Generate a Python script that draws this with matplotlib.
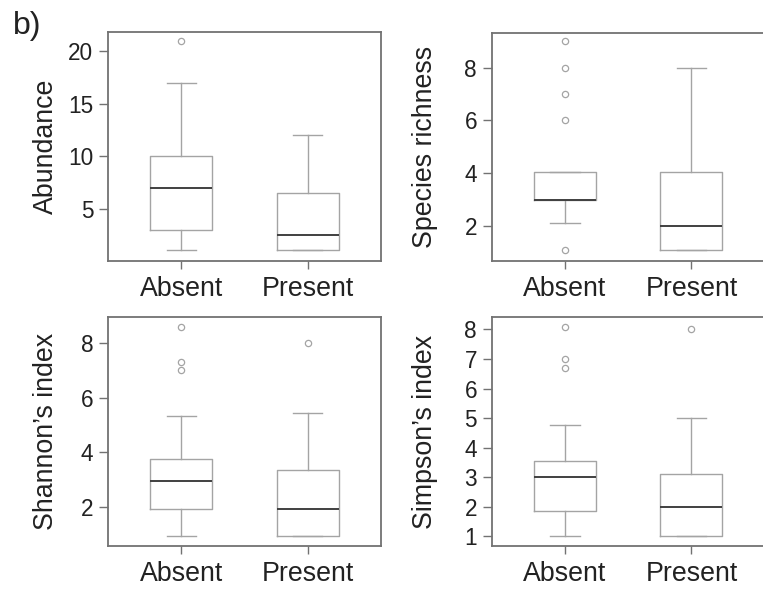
import matplotlib
matplotlib.use("Agg")
import matplotlib.pyplot as plt

plt.rcParams['font.family'] = ['Liberation Sans', 'DejaVu Sans']

groups = ["Absent", "Present"]

# Abundance
ab_q1 = [3.0, 1.1]
ab_med = [7.0, 2.5]
ab_q3 = [10.0, 6.5]
ab_lo = [1.15, 1.1]
ab_hi = [17.0, 12.0]
ab_fl = [[21.0], []]

# Species richness
sr_q1 = [3.0, 1.1]
sr_med = [3.0, 2.0]
sr_q3 = [4.03, 4.03]
sr_lo = [2.1, 1.1]
sr_hi = [4.03, 8.0]
sr_fl = [[9.0, 8.0, 7.0, 6.0, 1.1], []]

# Shannon's index
sh_q1 = [1.92, 0.93]
sh_med = [2.94, 1.92]
sh_q3 = [3.74, 3.36]
sh_lo = [0.93, 0.93]
sh_hi = [5.35, 5.44]
sh_fl = [[8.6, 7.3, 7.0], [8.0]]

# Simpson's index
si_q1 = [1.84, 1.0]
si_med = [3.0, 2.0]
si_q3 = [3.55, 3.12]
si_lo = [1.0, 1.0]
si_hi = [4.77, 5.0]
si_fl = [[8.08, 7.0, 6.69], [8.0]]

panels = [
    ("Abundance", ab_q1, ab_med, ab_q3, ab_lo, ab_hi, ab_fl, [5, 10, 15, 20], (0.06, 21.78)),
    ("Species richness", sr_q1, sr_med, sr_q3, sr_lo, sr_hi, sr_fl, [2, 4, 6, 8], (0.67, 9.33)),
    ("Shannon\u2019s index", sh_q1, sh_med, sh_q3, sh_lo, sh_hi, sh_fl, [2, 4, 6, 8], (0.57, 8.97)),
    ("Simpson\u2019s index", si_q1, si_med, si_q3, si_lo, si_hi, si_fl, [1, 2, 3, 4, 5, 6, 7, 8], (0.68, 8.41)),
]

W, H = 763, 596
fig = plt.figure(figsize=(W / 100, H / 100), dpi=100)

# axes boxes in pixels: left, top, right, bottom, ylabel x (axes fraction)
boxes = [
    (108, 32.3, 381, 261, -0.18),
    (491.7, 32.7, 764.7, 261, -0.195),
    (108, 316.7, 381, 546, -0.18),
    (491.7, 317.3, 764.7, 545.7, -0.195),
]

frame_col = "#727272"
box_col = "#a4a4a4"
med_col = "#404040"

for (ylab, q1, med, q3, lo, hi, fl, yt, yl), (l, t, r, b, lx) in zip(panels, boxes):
    ax = fig.add_axes([l / W, 1 - b / H, (r - l) / W, (b - t) / H])
    stats = []
    for i, g in enumerate(groups):
        stats.append(dict(label=g, q1=q1[i], med=med[i], q3=q3[i],
                          whislo=lo[i], whishi=hi[i], fliers=fl[i]))
    ax.bxp(stats, positions=[1, 2], widths=0.49, capwidths=0.23,
           boxprops=dict(color=box_col, linewidth=1.0),
           whiskerprops=dict(color=box_col, linewidth=1.0),
           capprops=dict(color=box_col, linewidth=1.0),
           medianprops=dict(color=med_col, linewidth=1.4),
           flierprops=dict(marker='o', markersize=4.5, markerfacecolor='none',
                           markeredgecolor=box_col, markeredgewidth=0.9))
    ax.set_xlim(0.42, 2.58)
    ax.set_ylim(*yl)
    ax.set_yticks(yt)
    ax.set_yticklabels([str(v) for v in yt])
    ax.set_xticks([1, 2])
    ax.set_xticklabels(groups)
    for sp in ax.spines.values():
        sp.set_color(frame_col)
        sp.set_linewidth(1.3)
    ax.tick_params(axis='y', length=6.5, width=1.0, color=frame_col,
                   labelsize=16.3, labelcolor="#222222", pad=4)
    ax.tick_params(axis='x', length=6, width=1.0, color=frame_col,
                   labelsize=19.3, labelcolor="#222222", pad=5)
    ax.set_ylabel(ylab, fontsize=19.3, color="#222222")
    ax.yaxis.set_label_coords(lx, 0.5)

fig.text(13 / W, 1 - 34 / H, "b)", fontsize=23, color="#222222", va='baseline', ha='left')

fig.savefig("out.png", dpi=100)
